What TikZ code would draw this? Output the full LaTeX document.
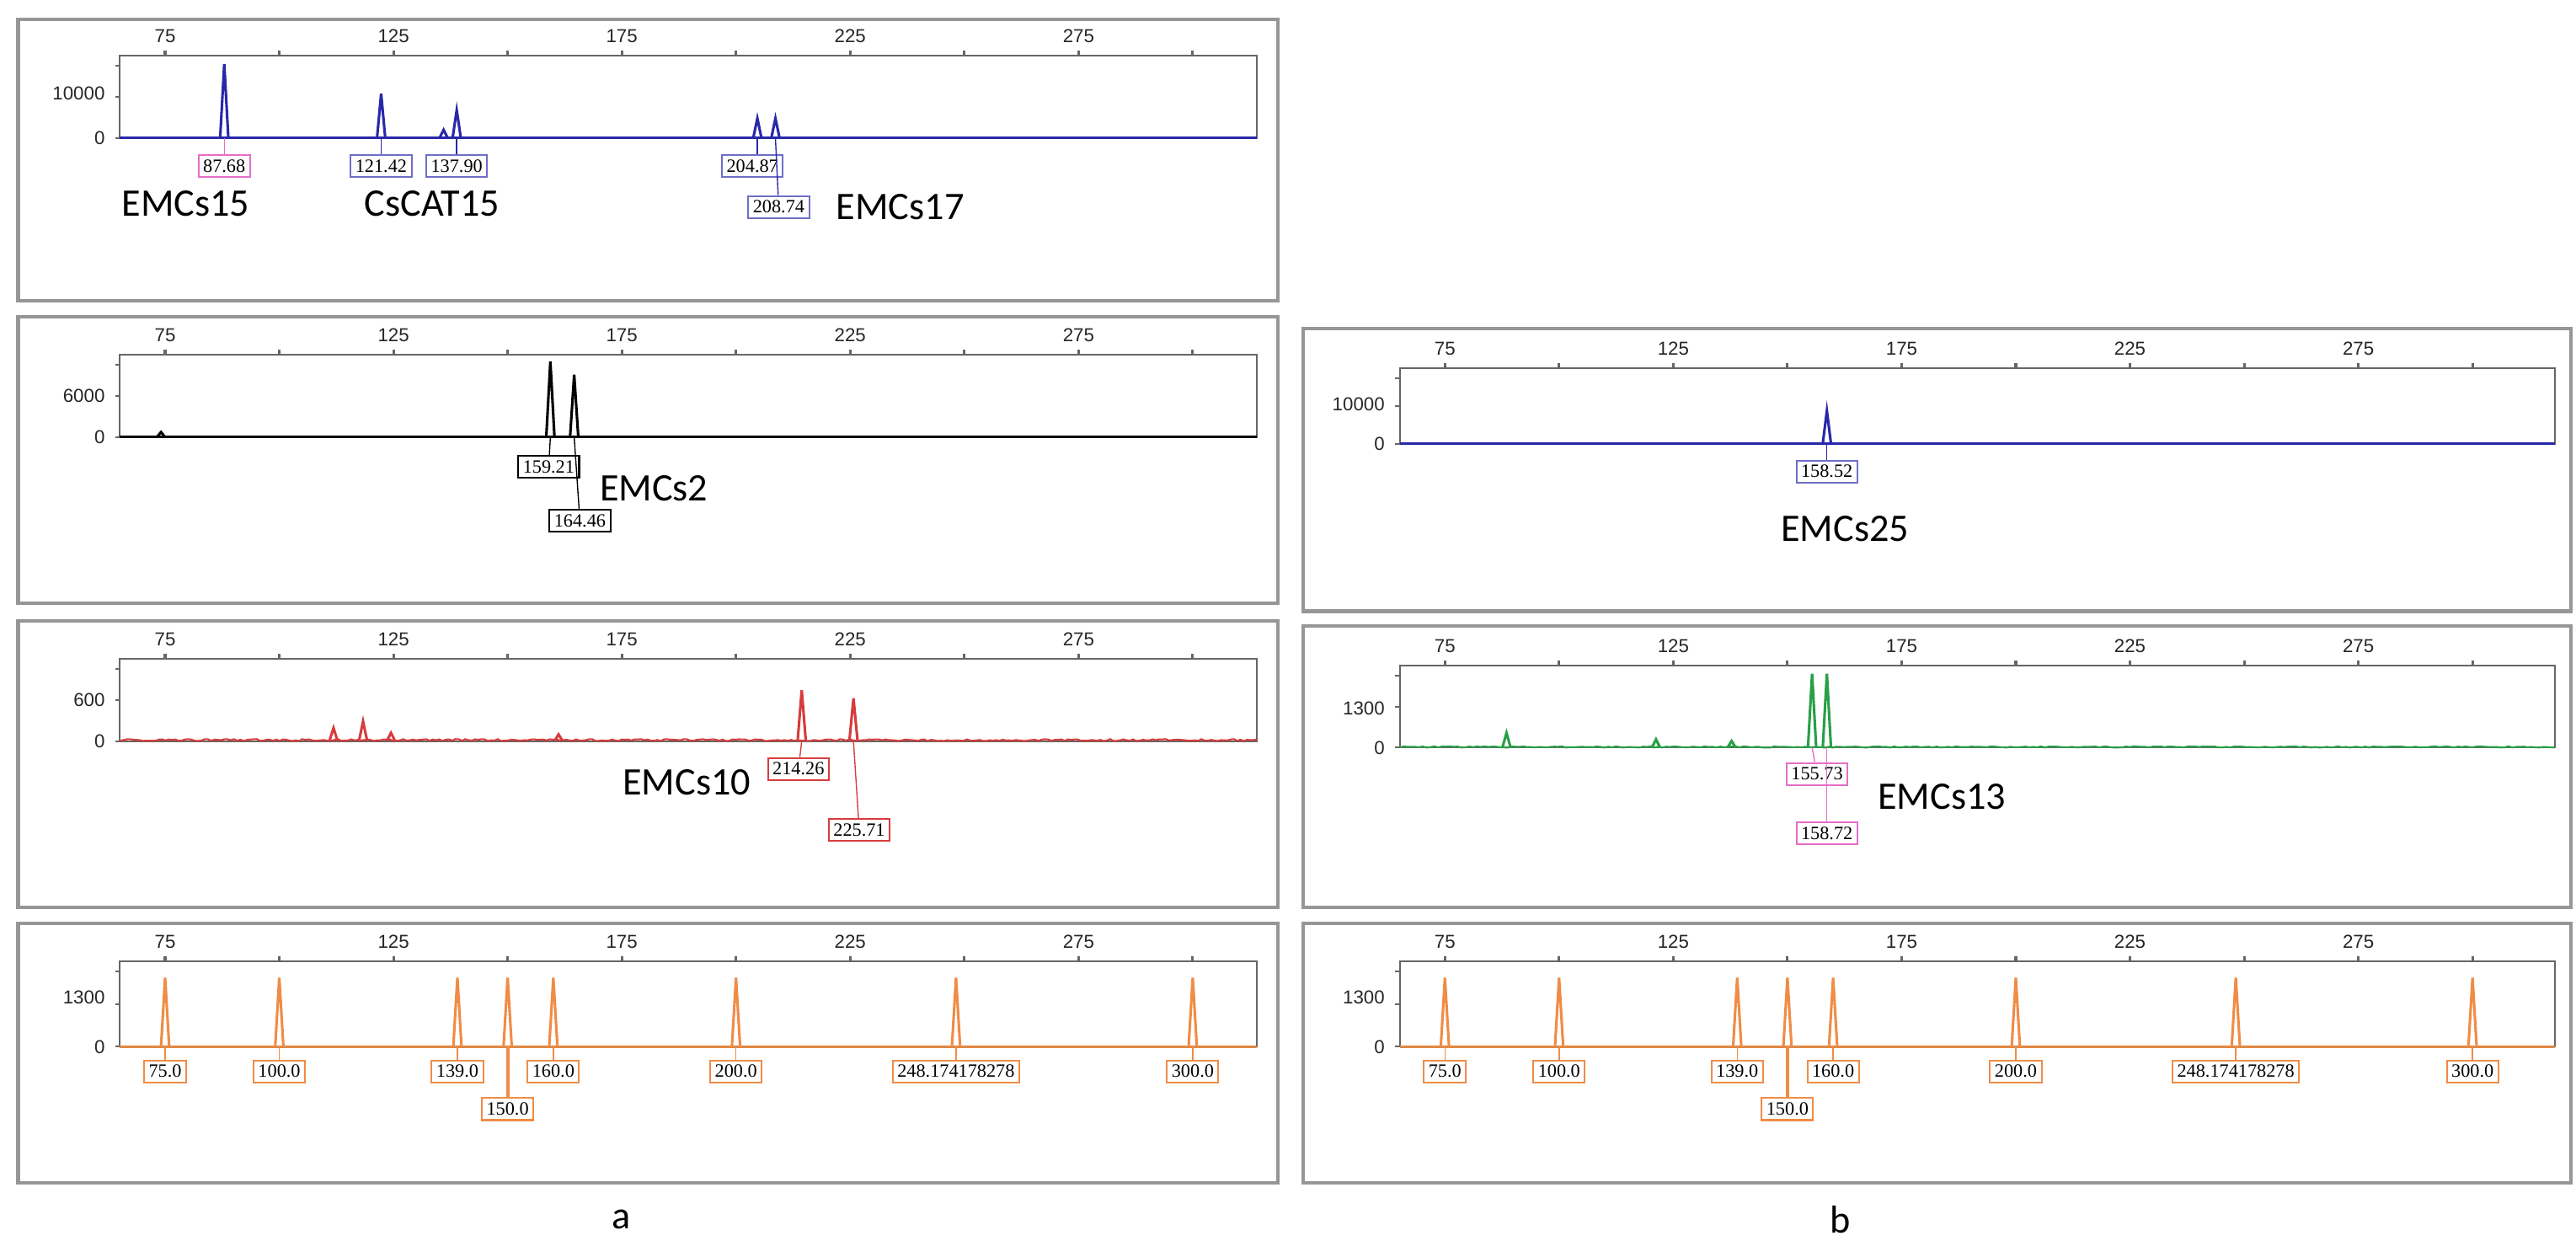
\documentclass[tikz,border=0pt]{standalone}
\usepackage{fontspec}
\setmainfont{Liberation Serif}
\newfontfamily\calf{Carlito}
\newfontfamily\arsf{Liberation Sans}
\definecolor{frm}{RGB}{150,150,150}
\definecolor{bl}{RGB}{40,40,170}
\definecolor{pnk}{RGB}{230,110,200}
\definecolor{lbl}{RGB}{110,110,200}
\definecolor{rd}{RGB}{215,60,60}
\definecolor{gr}{RGB}{40,160,70}
\definecolor{orng}{RGB}{240,140,70}
\tikzset{
 frame/.style={draw=frm,line width=1.2pt},
 axbox/.style={draw=gray!80!black,line width=0.6pt},
 axnum/.style={font=\arsf\fontsize{6.5}{7}\selectfont,text=gray!30!black},
 lab/.style={draw=#1,fill=white,font=\fontsize{6.5}{7}\selectfont,inner sep=1.6pt,line width=0.6pt},
 big/.style={font=\calf\fontsize{13.5}{15}\selectfont},
 pk/.style={line width=0.9pt},
}
\newcommand\mypanel[9]{%
 \draw[frame] (#1,#3) rectangle (#2,#4);
 \draw[axbox] (#5,#7) rectangle (#6,#8);
 \foreach \v in {75,100,...,300}{\draw[axbox,line width=0.9pt] ({#9+2.78*(\v-75)},#7) -- ++(0,-3);}
 \foreach \v in {75,125,...,275}{\node[axnum] at ({#9+2.78*(\v-75)},{#7-12}) {\v};}
 \draw[axbox] (#5,#8) -- ++(-3,0);
 \draw[axbox] (#5,{(#7+#8)/2}) -- ++(-3,0);
 \draw[axbox] (#5,{#7+6}) -- ++(-3,0);
}
\newcommand\mypk[4]{\draw[pk,#4] ({#1-2.5},#2) -- ({#1},#3) -- ({#1+2.5},#2);}
\begin{document}
\begin{tikzpicture}[x=0.02cm,y=-0.02cm]
\useasboundingbox (0,0) rectangle (1568,765);
\pgfmathsetseed{7}
% ---------- panel a1
\mypanel{11}{778}{12}{183}{73}{765}{34}{84}{100.5}
\node[axnum,anchor=east] at (70,84) {0};
\node[axnum,anchor=east] at (70,57) {10000};
\draw[bl,line width=0.9pt] (73,84) -- (765,84);
\mypk{136.5}{84}{39}{bl}
\mypk{232}{84}{57}{bl}
\mypk{278}{84}{67}{bl}
\mypk{270}{84}{79}{bl}
\mypk{461}{84}{72}{bl}
\mypk{472}{84}{72}{bl}
\coordinate (p1a) at (136.5,84); \coordinate (p1b) at (232,84); \coordinate (p1c) at (278,84);
\coordinate (p1d) at (461,84); \coordinate (p1e) at (472,84);
\node[lab=pnk] (l1a) at (136.5,101) {87.68};
\node[lab=lbl] (l1b) at (232,101) {121.42};
\node[lab=lbl] (l1c) at (278,101) {137.90};
\node[lab=lbl] (l1d) at (458,101) {204.87};
\node[lab=lbl] (l1e) at (474,126) {208.74};
\draw[pnk] (p1a) -- (l1a); \draw[bl] (p1b) -- (l1b); \draw[bl] (p1c) -- (l1c);
\draw[bl] (p1d) -- (l1d.north-|p1d); \draw[bl] (p1e) -- (l1e);
\node[big] (t1a) at (113,124) {EMCs15};
\node[big] (t1b) at (263,124) {CsCAT15};
\node[big] (t1c) at (548,126) {EMCs17};
% ---------- panel a2
\mypanel{11}{778}{193}{367}{73}{765}{216}{266}{100.5}
\node[axnum,anchor=east] at (70,266) {0};
\node[axnum,anchor=east] at (70,241) {6000};
\draw[black,line width=0.8pt] (73,266) -- (765,266);
\mypk{335}{266}{220}{black}
\mypk{349.5}{266}{228}{black}
\mypk{98}{266}{263}{black}
\coordinate (p2a) at (335,266); \coordinate (p2b) at (349.5,266);
\node[lab=black] (l2a) at (334,284) {159.21};
\node[lab=black] (l2b) at (353,317) {164.46};
\draw (p2a) -- (l2a); \draw (p2b) -- (l2b);
\node[big] (t2) at (398,297) {EMCs2};
% ---------- panel a3
\mypanel{11}{778}{378}{552}{73}{765}{401}{451}{100.5}
\node[axnum,anchor=east] at (70,451) {0};
\node[axnum,anchor=east] at (70,426) {600};
\draw[rd,line width=0.6pt] plot[domain=73:765,samples=350] (\x,{451-1.2*rnd});
\mypk{488}{451}{420}{rd}
\mypk{519.5}{451}{425}{rd}
\mypk{203}{451}{443}{rd}
\mypk{221}{451}{439}{rd}
\mypk{238}{451}{446}{rd}
\mypk{340}{451}{447}{rd}
\coordinate (p3a) at (488,451); \coordinate (p3b) at (519.5,451);
\node[lab=rd] (l3a) at (486,468) {214.26};
\node[lab=rd] (l3b) at (523,505) {225.71};
\draw[rd] (p3a) -- (l3a); \draw[rd] (p3b) -- (l3b);
\node[big] (t3) at (418,476) {EMCs10};
% ---------- panel a4
\mypanel{11}{778}{562}{720}{73}{765}{585}{637}{100.5}
\node[axnum,anchor=east] at (70,637) {0};
\node[axnum,anchor=east] at (70,607) {1300};
\draw[orng!70!brown,line width=0.9pt] (73,637) -- (765,637);
\foreach \v/\t [count=\i] in {75/75.0,100/100.0,139/139.0,160/160.0,200/200.0,248.17/248.174178278,300/300.0}{
 \pgfmathsetmacro\px{100.5+2.78*(\v-75)}
 \coordinate (pa\i) at (\px,637);
 \mypk{\px}{637}{595}{orng}
 \node[lab=orng] (la\i) at (\px,652) {\t};
 \draw[orng] (pa\i) -- (la\i);
}
\coordinate (pa8) at (309,637);
\mypk{309}{637}{595}{orng}
\node[lab=orng] (la8) at (309,675) {150.0};
\draw[orng,line width=1.2pt] (pa8) -- (la8);
\node[big] (ta) at (378,742) {a};
% ---------- panel b1
\mypanel{793}{1565}{200}{372}{852}{1555}{224}{270}{879.5}
\node[axnum,anchor=east] at (849,270) {0};
\node[axnum,anchor=east] at (849,246) {10000};
\draw[bl,line width=0.9pt] (852,270) -- (1555,270);
\mypk{1112}{270}{250}{bl}
\coordinate (pb1) at (1112,270);
\node[lab=lbl] (lb1) at (1112,287) {158.52};
\draw[bl] (pb1) -- (lb1);
\node[big] (tb1) at (1123,322) {EMCs25};
% ---------- panel b2
\mypanel{793}{1565}{381}{552}{852}{1555}{405}{455}{879.5}
\node[axnum,anchor=east] at (849,455) {0};
\node[axnum,anchor=east] at (849,431) {1300};
\draw[gr,line width=0.6pt] plot[domain=852:1555,samples=300] (\x,{455-0.8*rnd});
\mypk{1103}{455}{410}{gr}
\mypk{1112}{455}{410}{gr}
\mypk{917}{455}{446}{gr}
\mypk{1008}{455}{450}{gr}
\mypk{1054}{455}{451}{gr}
\coordinate (pb2a) at (1103,455); \coordinate (pb2b) at (1112,455);
\node[lab=pnk] (lb2a) at (1106,471) {155.73};
\node[lab=pnk] (lb2b) at (1112,507) {158.72};
\draw[pnk] (pb2a) -- (lb2a); \draw[pnk] (pb2b) -- (lb2b);
\node[big] (tb2) at (1182,485) {EMCs13};
% ---------- panel b3
\mypanel{793}{1565}{562}{720}{852}{1555}{585}{637}{879.5}
\node[axnum,anchor=east] at (849,637) {0};
\node[axnum,anchor=east] at (849,607) {1300};
\draw[orng!70!brown,line width=0.9pt] (852,637) -- (1555,637);
\foreach \v/\t [count=\i] in {75/75.0,100/100.0,139/139.0,160/160.0,200/200.0,248.17/248.174178278,300/300.0}{
 \pgfmathsetmacro\px{879.5+2.78*(\v-75)}
 \coordinate (pr\i) at (\px,637);
 \mypk{\px}{637}{595}{orng}
 \node[lab=orng] (lr\i) at (\px,652) {\t};
 \draw[orng] (pr\i) -- (lr\i);
}
\coordinate (pr8) at (1088,637);
\mypk{1088}{637}{595}{orng}
\node[lab=orng] (lr8) at (1088,675) {150.0};
\draw[orng,line width=1.2pt] (pr8) -- (lr8);
\node[big] (tb) at (1120,742) {b};
\end{tikzpicture}
\end{document}
